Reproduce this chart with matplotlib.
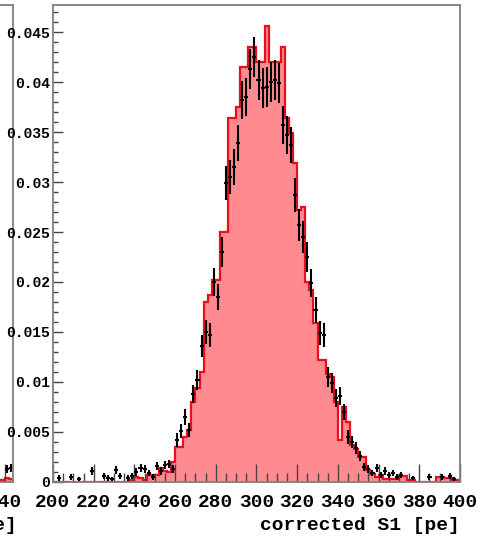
import numpy as np
import matplotlib
matplotlib.use("Agg")
import matplotlib.pyplot as plt
from matplotlib.ticker import MultipleLocator, FixedLocator, FuncFormatter

plt.rcParams['font.family'] = ['Liberation Mono', 'DejaVu Sans Mono']
plt.rcParams['font.weight'] = 'bold'

# MC histogram (normalised), 2 pe bins from 200 to 400 pe
bin_edges = np.arange(200, 402, 2)
mc_hist = [
    0, 0, 0, 0, 0, 0, 0, 0, 0, 0,
    0, 0, 0, 0, 0, 0, 0, 0, 0, 0.0002,
    0.0005, 0.0004, 0.0002, 0.0007, 0.0007, 0.0007, 0.0014, 0.0011, 0.0010, 0.0020,
    0.0035, 0.0035, 0.0045, 0.0052, 0.0080, 0.0094, 0.0110, 0.0180, 0.0187, 0.0202,
    0.0202, 0.0250, 0.0250, 0.0364, 0.0364, 0.0375, 0.0415, 0.0415, 0.0435, 0.0435,
    0.0420, 0.0420, 0.0456, 0.0420, 0.0420, 0.0420, 0.0435, 0.0364, 0.0349, 0.0319,
    0.0272, 0.0275, 0.0200, 0.0192, 0.0159, 0.0122, 0.0122, 0.0108, 0.0105, 0.0080,
    0.0042, 0.0075, 0.0060, 0.0037, 0.0033, 0.0025, 0.0025, 0.0012, 0.0008, 0.0005,
    0.0007, 0.0003, 0.0003, 0.0003, 0.0003, 0.0006, 0.0006, 0.0002, 0.0002, 0,
    0, 0, 0, 0, 0.0005, 0.0005, 0.0004, 0.0004, 0.0002, 0.0002,
]

# data points (bin centre, value, error)
data_x = [203, 209, 213, 219, 225, 227, 229, 231, 233, 237, 239, 241, 243, 245, 247, 249,
          251, 253, 255, 257, 259, 261, 263, 265, 267, 269, 271, 273, 275, 277, 279, 281,
          283, 285, 287, 289, 291, 293, 295, 297, 299, 301, 303, 305, 307, 309, 311, 313,
          315, 317, 319, 321, 323, 325, 327, 329, 331, 333, 335, 337, 339, 341, 343, 345,
          347, 349, 351, 353, 355, 357, 359, 361, 363, 365, 367, 369, 371, 377, 385, 391,
          395, 397]
data_y = [0.0004, 0.0005, 0.0003, 0.0011, 0.0006, 0.0004, 0.0003, 0.0012, 0.0006, 0.0004,
          0.0006, 0.0010, 0.0014, 0.0013, 0.0009, 0.0005, 0.0016, 0.0011, 0.0017, 0.0018,
          0.0013, 0.0042, 0.0051, 0.0065, 0.0052, 0.0088, 0.0102, 0.0136, 0.0150, 0.0147,
          0.0200, 0.0185, 0.0230, 0.0299, 0.0305, 0.0315, 0.0339, 0.0382, 0.0385, 0.0413,
          0.0425, 0.0402, 0.0394, 0.0395, 0.0400, 0.0402, 0.0399, 0.0357, 0.0347, 0.0337,
          0.0287, 0.0257, 0.0245, 0.0225, 0.0199, 0.0172, 0.0149, 0.0147, 0.0105, 0.0099,
          0.0084, 0.0086, 0.0070, 0.0045, 0.0040, 0.0034, 0.0026, 0.0015, 0.0013, 0.0009,
          0.0014, 0.0007, 0.0011, 0.0007, 0.0009, 0.0005, 0.0007, 0.0004, 0.0005, 0.0005,
          0.0006, 0.0003]
data_err = [0.0003, 0.0003, 0.0002, 0.0004, 0.0003, 0.0003, 0.0002, 0.0004, 0.0003, 0.0003,
            0.0003, 0.0004, 0.0004, 0.0004, 0.0003, 0.0003, 0.0004, 0.0004, 0.0004, 0.0004,
            0.0004, 0.0007, 0.0007, 0.0008, 0.0007, 0.0009, 0.0010, 0.0011, 0.0012, 0.0012,
            0.0014, 0.0013, 0.0015, 0.0017, 0.0017, 0.0018, 0.0018, 0.0019, 0.0019, 0.0020,
            0.0020, 0.0020, 0.0020, 0.0020, 0.0020, 0.0020, 0.0020, 0.0019, 0.0019, 0.0018,
            0.0017, 0.0016, 0.0016, 0.0015, 0.0014, 0.0013, 0.0012, 0.0012, 0.0010, 0.0010,
            0.0009, 0.0009, 0.0008, 0.0007, 0.0006, 0.0006, 0.0005, 0.0004, 0.0004, 0.0003,
            0.0004, 0.0003, 0.0004, 0.0003, 0.0003, 0.0003, 0.0003, 0.0002, 0.0003, 0.0003,
            0.0003, 0.0002]

# piece of the neighbouring panel that shows at the left edge
left_edges = [236, 238, 240, 242, 244]
left_hist = [0.0002, 0.0002, 0.0004, 0.0003]
left_x = [241, 243]
left_y = [0.0013, 0.0014]
left_err = [0.0004, 0.0004]

xlabel = "corrected S1 [pe]"

FILL = "#ff8a90"
EDGE = "#e8101c"
FRAME = "#808080"

W, H = 481, 536
fig = plt.figure(figsize=(W / 100, H / 100), dpi=100)


def style_axes(ax, xlo, xhi):
    ax.set_xlim(xlo, xhi)
    ax.set_ylim(0, 0.0478)
    for s in ax.spines.values():
        s.set_color(FRAME)
        s.set_linewidth(1.3)
    ax.xaxis.set_major_locator(MultipleLocator(20))
    ax.xaxis.set_minor_locator(MultipleLocator(5))
    ax.yaxis.set_major_locator(MultipleLocator(0.005))
    ax.yaxis.set_minor_locator(MultipleLocator(0.001))
    ax.yaxis.set_major_formatter(FuncFormatter(lambda v, p: "%g" % round(v, 4)))
    ax.tick_params(axis="both", which="both", direction="in", color="#444444",
                   top=False, right=False, width=1.0)
    ax.tick_params(axis="x", which="major", length=13, pad=9, labelsize=14)
    ax.tick_params(axis="x", which="minor", length=6.5)
    ax.tick_params(axis="y", which="major", length=7, pad=2, labelsize=10.5)
    ax.tick_params(axis="y", which="minor", length=3.6)


def draw(ax, edges, hist, xs, ys, errs):
    ax.stairs(hist, edges, fill=True, color=FILL, zorder=1)
    ax.stairs(hist, edges, color=EDGE, linewidth=1.6, zorder=1.2)
    ax.errorbar(xs, ys, xerr=1, yerr=errs, fmt="none", ecolor="black",
                elinewidth=1.5, capsize=0, zorder=2)


# left (neighbouring) panel, only its right edge is inside the picture
scale = 407 / 200.0
lw_px = 204 * scale
axL = fig.add_axes([(13 - lw_px) / W, (H - 481.5) / H, lw_px / W, 477 / H])
style_axes(axL, 40, 244)
axL.xaxis.set_major_locator(FixedLocator([240]))
axL.xaxis.set_minor_locator(FixedLocator([235, 240]))
axL.yaxis.set_major_locator(FixedLocator([]))
axL.yaxis.set_minor_locator(FixedLocator([]))
draw(axL, left_edges, left_hist, left_x, left_y, left_err)

# main panel
ax = fig.add_axes([53 / W, (H - 481.5) / H, 407 / W, 477 / H])
style_axes(ax, 200, 400)
draw(ax, bin_edges, mc_hist, data_x, data_y, data_err)

fig.text(460 / W, 1 - 530 / H, xlabel, ha="right", va="baseline", fontsize=14,
         fontweight="bold")
fig.text(17 / W, 1 - 530 / H, xlabel, ha="right", va="baseline", fontsize=14,
         fontweight="bold")

fig.savefig("out.png", dpi=100)
